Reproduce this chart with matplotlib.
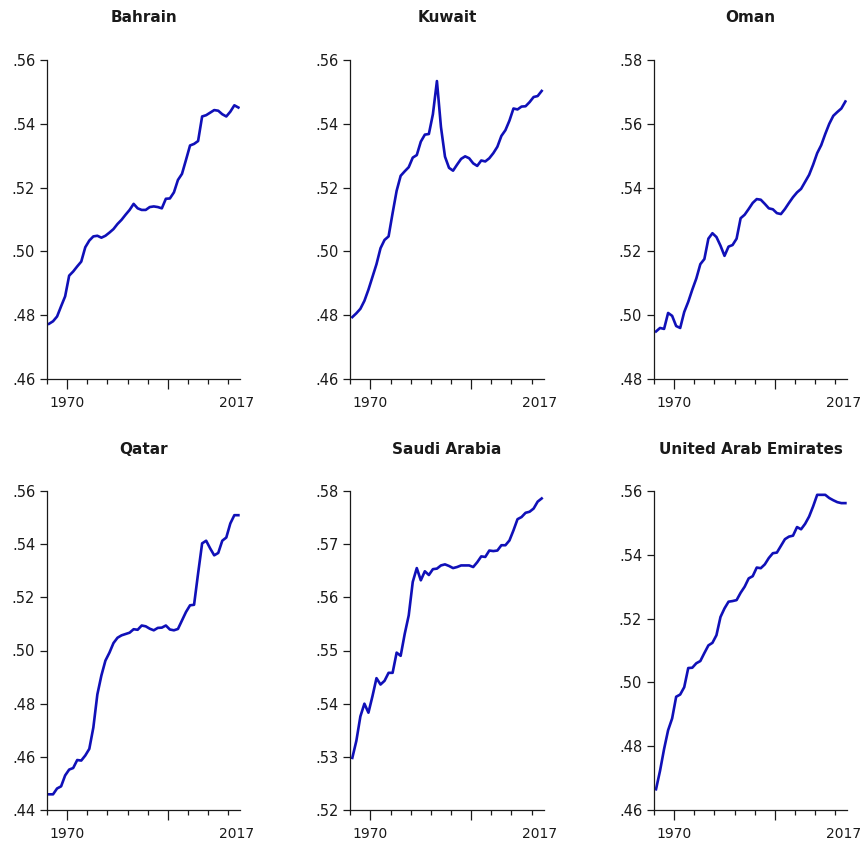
import numpy as np
import matplotlib.pyplot as plt
from matplotlib.ticker import FuncFormatter

# annual observations, one value per year
years = np.arange(1970, 2018)

bahrain = [.4773, .4781, .4796, .4828, .4859, .4924, .4937, .4953, .4968, .5013,
           .5034, .5047, .5049, .5043, .5049, .5059, .5070, .5086, .5099, .5115,
           .5130, .5149, .5135, .5130, .5130, .5139, .5141, .5139, .5135, .5165,
           .5166, .5185, .5224, .5243, .5287, .5332, .5337, .5346, .5423, .5427,
           .5435, .5443, .5441, .5430, .5423, .5438, .5458, .5451]

kuwait = [.4794, .4806, .4820, .4845, .4880, .4920, .4960, .5010, .5036, .5047,
          .5120, .5190, .5237, .5251, .5264, .5294, .5302, .5344, .5366, .5368,
          .5430, .5534, .5390, .5297, .5262, .5253, .5272, .5290, .5298, .5292,
          .5276, .5268, .5285, .5282, .5292, .5308, .5328, .5362, .5380, .5410,
          .5448, .5445, .5454, .5455, .5468, .5484, .5487, .5503]

oman = [.4949, .4960, .4957, .5007, .4998, .4966, .4960, .5010, .5042, .5080,
        .5115, .5160, .5176, .5240, .5257, .5245, .5218, .5186, .5215, .5220,
        .5240, .5304, .5315, .5333, .5352, .5364, .5362, .5349, .5335, .5332,
        .5320, .5317, .5333, .5352, .5370, .5385, .5396, .5418, .5440, .5472,
        .5508, .5533, .5568, .5600, .5625, .5637, .5648, .5670]

qatar = [.4459, .4459, .4481, .4489, .4530, .4552, .4558, .4588, .4586, .4605,
         .4630, .4710, .4835, .4906, .4962, .4992, .5028, .5048, .5057, .5062,
         .5067, .5080, .5078, .5094, .5091, .5082, .5076, .5085, .5086, .5094,
         .5079, .5076, .5081, .5113, .5145, .5170, .5172, .5290, .5403, .5413,
         .5384, .5358, .5367, .5413, .5425, .5478, .5509, .5509]

saudi = [.5298, .5330, .5376, .5400, .5383, .5414, .5448, .5436, .5443, .5458,
         .5458, .5496, .5490, .5531, .5566, .5629, .5655, .5632, .5649, .5642,
         .5653, .5654, .5660, .5662, .5659, .5655, .5657, .5660, .5660, .5660,
         .5657, .5666, .5677, .5676, .5688, .5687, .5688, .5698, .5698, .5707,
         .5726, .5747, .5751, .5759, .5761, .5767, .5780, .5786]

uae = [.4665, .4723, .4791, .4850, .4887, .4955, .4962, .4985, .5045, .5046,
       .5060, .5067, .5092, .5116, .5124, .5148, .5205, .5232, .5253, .5255,
       .5258, .5281, .5300, .5326, .5333, .5360, .5358, .5370, .5390, .5405,
       .5407, .5428, .5449, .5457, .5460, .5487, .5480, .5497, .5520, .5552,
       .5588, .5588, .5588, .5578, .5571, .5565, .5562, .5562]

countries = ["Bahrain", "Kuwait", "Oman", "Qatar", "Saudi Arabia", "United Arab Emirates"]
series = [bahrain, kuwait, oman, qatar, saudi, uae]
y_ranges = [(0.46, 0.56, 0.02), (0.46, 0.56, 0.02), (0.48, 0.58, 0.02),
            (0.44, 0.56, 0.02), (0.52, 0.58, 0.01), (0.46, 0.56, 0.02)]
first_label, last_label = "1970", "2017"

LINE_BLUE = '#1010b8'
INK = '#1a1a1a'

W, H = 866, 843
fig = plt.figure(figsize=(W / 100, H / 100), dpi=100)

col_left = [47, 350.3, 654]     # px from the left edge
row_top = [60, 491]             # px from the top edge
ax_w, ax_h = 193.4, 319.0

tick_pos = np.arange(1969.5, 2017, 5)
major_pos = tick_pos[[1, 6]]
minor_pos = np.delete(tick_pos, [1, 6])

fmt = FuncFormatter(lambda v, p: f"{v:.2f}".lstrip('0'))

for i, (name, vals, (lo, hi, step)) in enumerate(zip(countries, series, y_ranges)):
    row, col = divmod(i, 3)
    left = col_left[col] / W
    bottom = (H - row_top[row] - ax_h) / H
    ax = fig.add_axes([left, bottom, ax_w / W, ax_h / H])

    ax.plot(years, vals, color=LINE_BLUE, lw=1.9, solid_joinstyle='round')

    ax.set_xlim(1969.5, 2017.5)
    ax.set_ylim(lo, hi)
    ax.set_yticks(np.arange(lo, hi + step / 2, step))
    ax.yaxis.set_major_formatter(fmt)

    ax.set_xticks(major_pos, labels=[first_label, ''])
    ax.set_xticks(minor_pos, minor=True)

    for side in ('top', 'right'):
        ax.spines[side].set_visible(False)
    for side in ('left', 'bottom'):
        ax.spines[side].set_color(INK)
        ax.spines[side].set_linewidth(0.9)

    ax.tick_params(axis='x', which='major', length=7.2, width=0.9, pad=5,
                   color=INK, labelcolor=INK, labelsize=10)
    ax.tick_params(axis='x', which='minor', length=3.6, width=0.9, color=INK)
    ax.tick_params(axis='y', length=5, width=0.9, pad=3.5,
                   color=INK, labelcolor=INK, labelsize=10.5)

    # last year shown at the right end of the axis
    ax.annotate(last_label, xy=(2016.5, 0), xycoords=('data', 'axes fraction'),
                xytext=(0, -12.2), textcoords='offset points',
                ha='center', va='top', fontsize=10, color=INK)

    ax.set_title(name, fontsize=11, fontweight='bold', color=INK, pad=27)

fig.savefig('out.png', dpi=100, facecolor='white')
